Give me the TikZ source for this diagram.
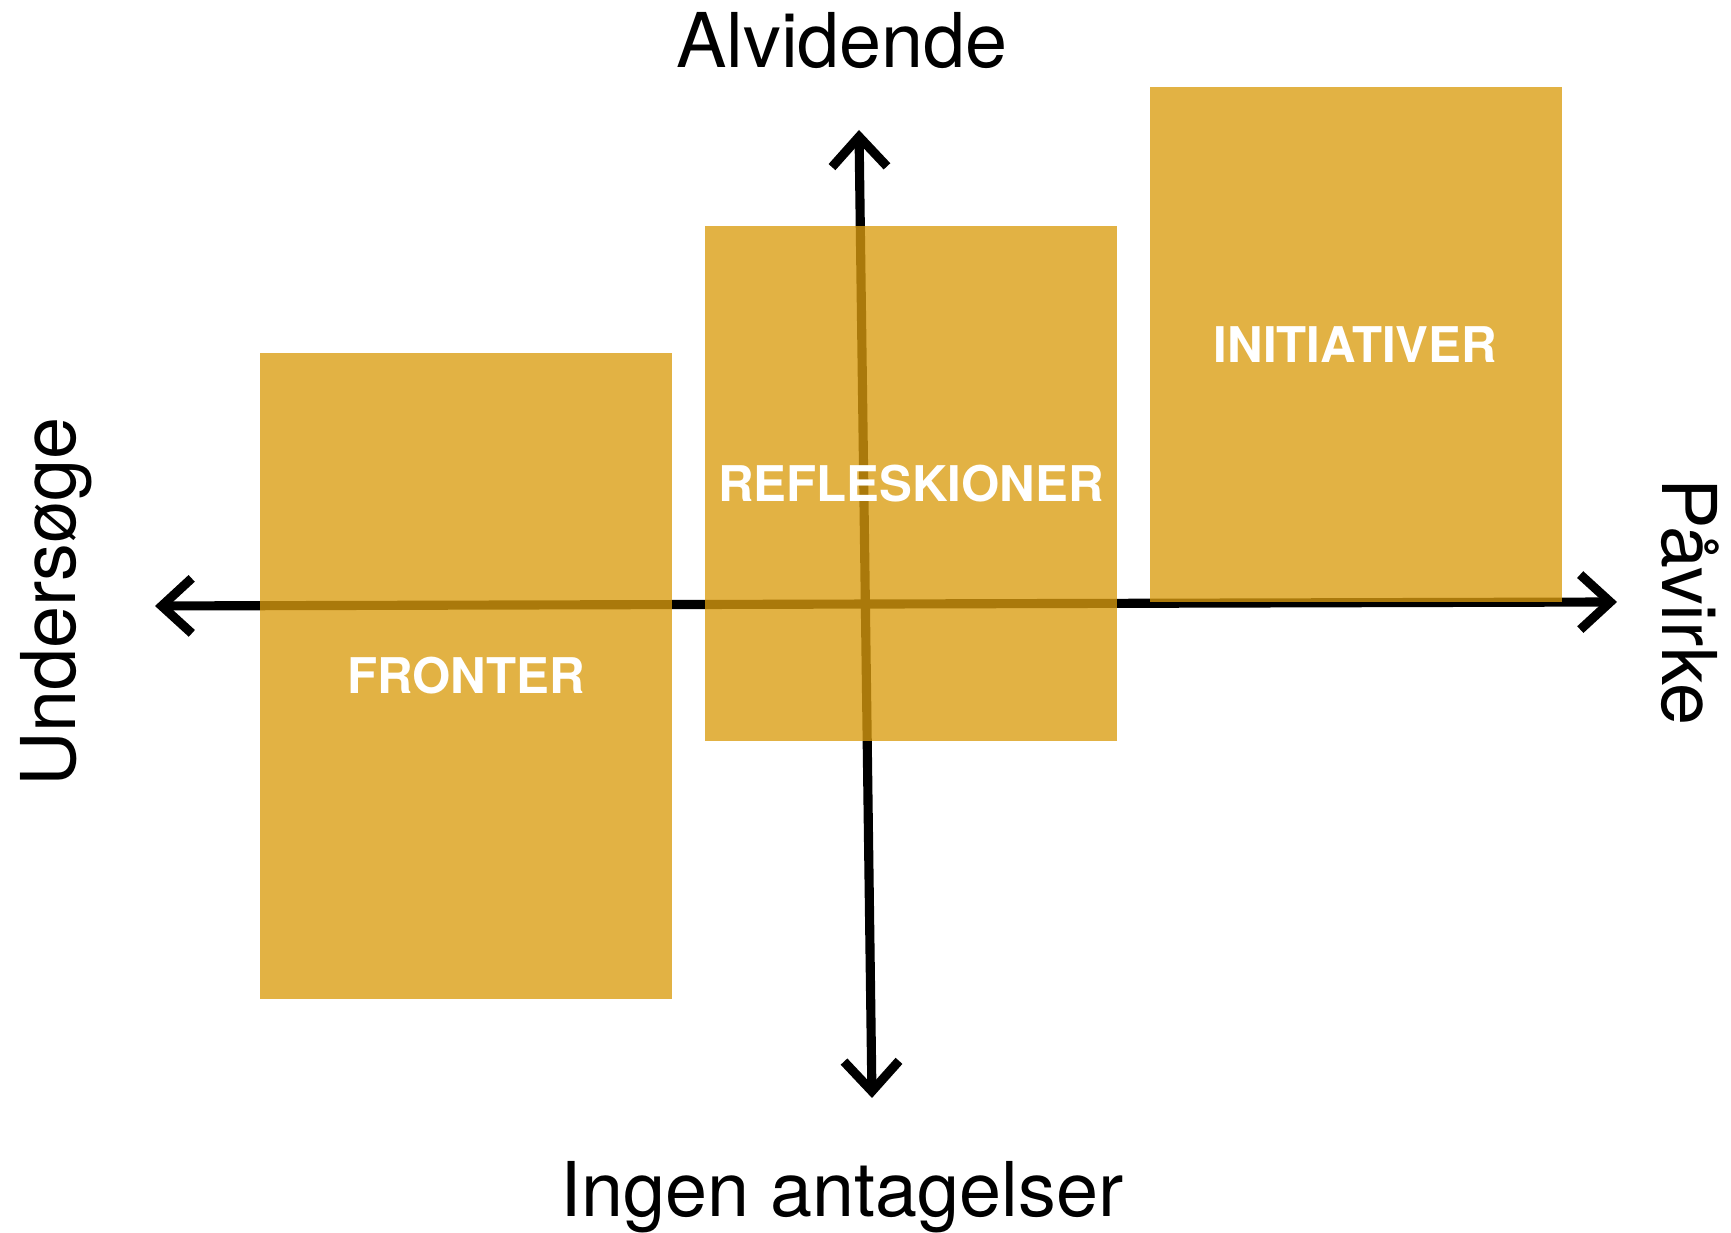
\documentclass[tikz,border=0pt]{standalone}
\usepackage{fontspec}
\setmainfont{TeX Gyre Heros}
\usetikzlibrary{
    arrows.meta,
    positioning
}

\definecolor{boxgold}{RGB}{218,156,15}

\tikzset{
    axisline/.style={line width=2.6pt, black,
        {Straight Barb[length=3mm,width=5.5mm]}-{Straight Barb[length=3mm,width=5.5mm]}},
    fieldbox/.style={fill=boxgold, fill opacity=0.78, text opacity=1,
        minimum width=4.12cm, inner sep=0pt, text=white,
        font=\fontsize{14}{16}\selectfont\bfseries},
    axislabel/.style={font=\fontsize{21.5}{24}\selectfont, anchor=base}
}

\begin{document}
\begin{tikzpicture}[scale=1]

\useasboundingbox (0,0) rectangle (17.31,12.33);

% Axis end points
\coordinate (west) at (1.55,6.27);
\coordinate (east) at (16.17,6.31);
\coordinate (north) at (8.59,11.03);
\coordinate (south) at (8.72,1.35);

% Axes
\draw[axisline] (west) -- (east);
\draw[axisline] (south) -- (north);

% Fields
\node[fieldbox, minimum height=6.46cm] (fronter) at (4.66,5.57) {FRONTER};
\node[fieldbox, minimum height=5.15cm] (refleks) at (9.11,7.495) {REFLESKIONER};
\node[fieldbox, minimum height=5.15cm] (initiativ) at (13.555,8.885) {INITIATIVER};

% Axis labels
\node[axislabel] (alvidende) at (8.42,11.65) {Alvidende};
\node[axislabel] (ingen) at (8.42,0.16) {Ingen antagelser};
\node[axislabel, rotate=90] (undersoge) at (0.75,6.31) {Undersøge};
\node[axislabel, rotate=-90] (pavirke) at (16.62,6.31) {Påvirke};

\end{tikzpicture}
\end{document}
